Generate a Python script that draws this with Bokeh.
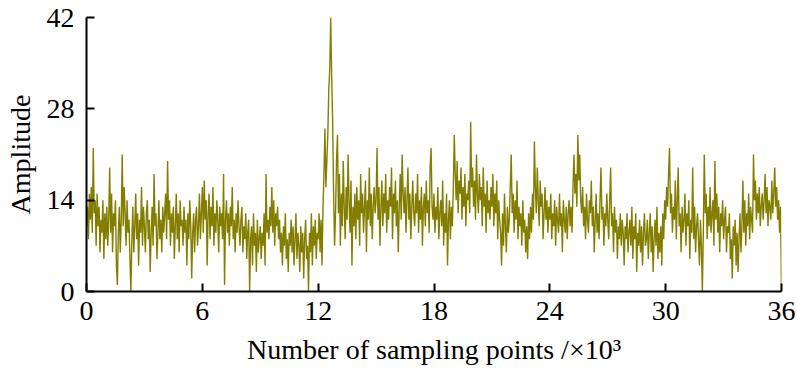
from bokeh.plotting import figure
from bokeh.models import FixedTicker, Range1d
from bokeh.embed import file_html
from bokeh.resources import INLINE

# amplitude; x in units of 10^3 sampling points, step 0.05
rows = [
    [10, 13, 8, 15, 11, 16, 9, 22, 12, 14, 7, 15, 10, 13, 6, 11, 9, 14, 5, 12],
    [8, 13, 7, 11, 19, 9, 15, 6, 12, 10, 14, 4, 1, 9, 13, 6, 11, 21, 10, 16],
    [12, 7, 14, 9, 11, 5, 0, 8, 13, 6, 10, 15, 8, 12, 4, 11, 9, 16, 7, 13],
    [10, 6, 12, 14, 8, 11, 3, 9, 13, 7, 18, 10, 12, 5, 9, 14, 8, 11, 6, 13],
    [9, 12, 15, 8, 20, 11, 14, 7, 12, 9, 13, 5, 10, 15, 8, 12, 6, 14, 10, 11],
    [7, 13, 9, 11, 4, 12, 8, 14, 10, 2, 9, 12, 6, 11, 13, 7, 10, 15, 8, 12],
    [16, 9, 17, 11, 14, 4, 12, 15, 8, 13, 10, 16, 7, 12, 9, 14, 11, 6, 13, 10],
    [12, 8, 18, 1, 11, 14, 9, 12, 7, 13, 10, 16, 8, 11, 6, 12, 9, 14, 10, 7],
    [11, 13, 6, 10, 8, 12, 5, 9, 11, 0, 8, 10, 4, 12, 7, 9, 3, 11, 6, 8],
    [10, 5, 9, 7, 12, 4, 18, 9, 11, 8, 13, 10, 16, 9, 14, 7, 12, 10, 13, 8],
    [11, 6, 9, 4, 10, 7, 12, 5, 8, 3, 9, 7, 11, 6, 10, 4, 8, 12, 5, 9],
    [7, 3, 10, 6, 9, 2, 8, 11, 5, 7, 0, 9, 6, 12, 4, 10, 7, 11, 5, 9],
    [8, 12, 6, 11, 4, 13, 18, 25, 16, 20, 24, 31, 34, 42, 33, 26, 15, 7, 12, 20],
    [24, 12, 18, 7, 15, 10, 20, 13, 8, 16, 11, 21, 14, 9, 17, 4, 13, 10, 15, 8],
    [16, 11, 14, 7, 18, 12, 15, 9, 13, 17, 6, 14, 11, 19, 10, 15, 8, 13, 16, 12],
    [14, 22, 11, 16, 7, 13, 17, 10, 15, 12, 18, 9, 14, 11, 16, 13, 19, 8, 15, 12],
    [17, 10, 14, 6, 13, 18, 11, 21, 15, 12, 16, 9, 14, 19, 11, 15, 8, 13, 17, 12],
    [10, 15, 12, 18, 9, 14, 11, 16, 7, 13, 15, 10, 17, 12, 14, 9, 19, 22, 13, 11],
    [15, 9, 13, 11, 16, 8, 12, 14, 10, 17, 7, 12, 9, 15, 4, 11, 14, 8, 13, 10],
    [16, 24, 18, 14, 20, 12, 17, 15, 19, 11, 16, 13, 18, 10, 15, 14, 17, 12, 26, 16],
    [19, 13, 17, 11, 21, 15, 12, 18, 14, 16, 10, 19, 13, 15, 9, 17, 12, 14, 11, 16],
    [13, 18, 10, 15, 12, 17, 8, 14, 11, 9, 4, 12, 7, 15, 10, 6, 13, 9, 11, 16],
    [21, 12, 15, 9, 14, 11, 17, 8, 13, 10, 12, 7, 14, 9, 11, 6, 10, 5, 12, 8],
    [13, 9, 15, 11, 23, 16, 12, 19, 14, 10, 17, 13, 15, 8, 12, 16, 11, 14, 9, 13],
    [11, 15, 8, 12, 10, 14, 7, 13, 11, 9, 15, 10, 12, 6, 14, 11, 9, 13, 8, 12],
    [14, 10, 13, 9, 16, 21, 15, 18, 13, 24, 17, 21, 14, 12, 16, 10, 13, 8, 15, 11],
    [9, 14, 12, 17, 10, 13, 6, 11, 15, 9, 12, 8, 14, 19, 11, 13, 7, 12, 10, 15],
    [11, 8, 14, 19, 10, 12, 6, 13, 9, 11, 5, 10, 8, 12, 7, 11, 9, 4, 10, 8],
    [12, 6, 9, 11, 7, 13, 5, 10, 8, 12, 3, 9, 7, 11, 6, 10, 4, 9, 12, 7],
    [8, 11, 5, 9, 12, 6, 10, 3, 8, 11, 7, 13, 5, 9, 6, 10, 4, 12, 8, 14],
    [11, 16, 13, 18, 22, 12, 15, 9, 13, 11, 17, 8, 14, 19, 10, 12, 6, 13, 9, 11],
    [15, 7, 12, 10, 14, 5, 11, 9, 19, 8, 13, 6, 10, 12, 8, 4, 11, 7, 0, 9],
    [21, 12, 15, 8, 13, 10, 16, 9, 12, 14, 7, 20, 11, 15, 9, 13, 6, 12, 10, 14],
    [8, 11, 13, 6, 10, 9, 12, 5, 8, 2, 10, 7, 11, 4, 9, 3, 8, 12, 6, 10],
    [17, 9, 14, 7, 12, 10, 15, 8, 13, 11, 9, 21, 14, 17, 11, 15, 12, 16, 10, 13],
    [15, 11, 14, 18, 12, 16, 10, 14, 13, 11, 17, 12, 15, 19, 13, 16, 11, 14, 9, 13],
    [0],
]
amplitude = [v for r in rows for v in r]
samples = [i * 0.05 for i in range(len(amplitude))]

x_ticks = [0, 6, 12, 18, 24, 30, 36]
y_ticks = [0, 14, 28, 42]

FONT = "Liberation Serif"

p = figure(width=798, height=381, output_backend="svg", toolbar_location=None,
           x_range=Range1d(0, 36), y_range=Range1d(0, 42),
           min_border_left=86, min_border_right=17, min_border_top=17, min_border_bottom=90)
p.line(samples, amplitude, line_color="#837e00", line_width=1.4)

p.xgrid.visible = False
p.ygrid.visible = False
p.outline_line_color = None

for ax, ticks in ((p.xaxis, x_ticks), (p.yaxis, y_ticks)):
    ax.ticker = FixedTicker(ticks=ticks)
    ax.major_tick_in = 8
    ax.major_tick_out = 0
    ax.minor_tick_line_color = None
    ax.axis_line_width = 2
    ax.major_tick_line_width = 2
    ax.axis_line_color = "black"
    ax.major_tick_line_color = "black"
    ax.major_label_text_font = FONT
    ax.major_label_text_font_size = "28px"
    ax.major_label_text_color = "black"
    ax.axis_label_text_font = FONT
    ax.axis_label_text_font_size = "28px"
    ax.axis_label_text_font_style = "normal"
    ax.axis_label_text_color = "black"

p.xaxis.axis_label = "Number of sampling points /×10³"
p.yaxis.axis_label = "Amplitude"
p.xaxis.major_label_standoff = 10
p.yaxis.major_label_standoff = 12
p.xaxis.axis_label_standoff = 11
p.yaxis.axis_label_standoff = 8

open("out.html", "w").write(file_html(p, INLINE))
